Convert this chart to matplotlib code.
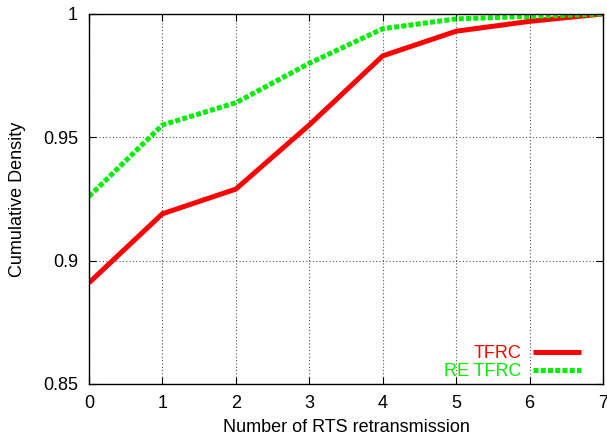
import matplotlib.pyplot as plt

plt.rcParams['font.family'] = ['Liberation Sans', 'DejaVu Sans']

retrans = [0, 1, 2, 3, 4, 5, 6, 7]
tfrc = [0.891, 0.919, 0.929, 0.955, 0.983, 0.993, 0.997, 1.0]
re_tfrc = [0.926, 0.955, 0.964, 0.980, 0.994, 0.998, 0.999, 1.0]

fig = plt.figure(figsize=(6.07, 4.36), dpi=100)
ax = fig.add_axes([0.1466, 0.1193, 0.8468, 0.8487])

ax.plot(retrans, tfrc, color='#ff0000', linewidth=3.6, label='TFRC',
        solid_capstyle='butt')
ax.plot(retrans, re_tfrc, color='#00ee00', linewidth=3.6, linestyle=(0, (1, 0.45)),
        label='RE TFRC', dash_capstyle='butt')

ax.set_xlim(0, 7)
ax.set_ylim(0.85, 1.0)
ax.set_xticks(retrans)
ax.set_yticks([0.85, 0.9, 0.95, 1.0])
ax.set_yticklabels(['0.85', '0.9', '0.95', '1'])
ax.grid(True, color='#555555', linestyle=(0, (1, 2)), linewidth=0.8)
ax.tick_params(direction='in', length=5, labelsize=13, top=True, right=True, pad=8)
for s in ax.spines.values():
    s.set_linewidth(1.0)

ax.set_xlabel('Number of RTS retransmission', fontsize=13, labelpad=5)
ax.set_ylabel('Cumulative Density', fontsize=13, labelpad=12)

ax.legend(loc='lower right', frameon=False, markerfirst=False, labelcolor='linecolor',
          fontsize=13, handlelength=2.7, handletextpad=0.6, labelspacing=0.05,
          borderaxespad=0.6, bbox_to_anchor=(0.993, -0.038))

fig.savefig('out.png', dpi=100)
